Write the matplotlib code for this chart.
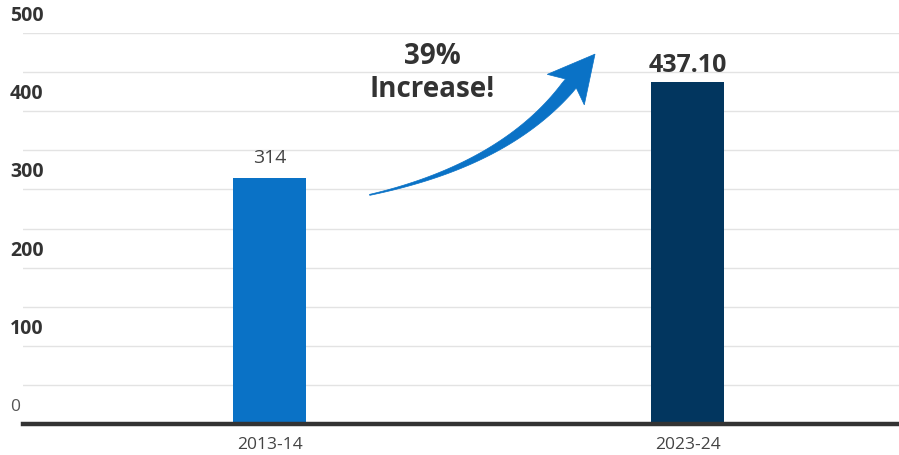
import numpy as np
import matplotlib
matplotlib.use("Agg")
import matplotlib.pyplot as plt
from matplotlib.patches import Polygon
from matplotlib.transforms import ScaledTranslation, blended_transform_factory

categories = ["2013-14", "2023-24"]
values = [314, 437.10]
value_labels = ["314", "437.10"]
bar_colors = ["#0a72c6", "#02365f"]
yticks = [0, 100, 200, 300, 400, 500]
annotation_text = "39%\nIncrease!"

fig = plt.figure(figsize=(8.99, 4.56), dpi=100)
ax = fig.add_axes([23/899, 31/456, 1 - 23/899, (425 - 34)/456])

x = list(range(len(categories)))
ax.bar(x, values, width=0.175, color=bar_colors, zorder=3)
ax.set_xlim(-0.59, 1.505)
ax.set_ylim(0, 500)

# gridlines every 50
for g in range(50, 501, 50):
    ax.axhline(g, color="#e3e3e3", lw=1.0, zorder=1)
ax.axhline(0, color="#333333", lw=3.2, zorder=4, clip_on=False)

for s in ax.spines.values():
    s.set_visible(False)
ax.set_yticks([])
ax.set_xticks(x)
ax.set_xticklabels(categories, fontsize=12.5, color="#444444", family="Open Sans")
ax.tick_params(axis="x", length=0, pad=9)

# y labels placed above gridlines at left edge of figure
trans = blended_transform_factory(fig.transFigure, ax.transData) + ScaledTranslation(0, 18/100, fig.dpi_scale_trans)
for t in yticks:
    ax.text(10/899, t, str(t), transform=trans, ha="left", va="center",
            fontsize=14 if t else 12.5, fontweight="bold" if t else "normal",
            color="#333333" if t else "#555555", family="Open Sans")

# value labels
ax.text(x[0], values[0] + 16, value_labels[0], ha="center", va="bottom",
        fontsize=14, color="#444444", family="Open Sans")
ax.text(x[1], values[1] + 6, value_labels[1], ha="center", va="bottom",
        fontsize=18, fontweight="bold", color="#333333", family="Open Sans")

# curved tapered arrow (built in display pixels)
fig.canvas.draw()
p0 = np.array(ax.transData.transform((0.239, 293)))
tip = np.array(ax.transData.transform((0.778, 473)))
d_head = np.array([28.0, 34.0]); d_head /= np.linalg.norm(d_head)
d_start = np.array([1.0, 0.22]); d_start /= np.linalg.norm(d_start)
head_len, head_w = 44.0, 48.0
base = tip - head_len * d_head
# control point: intersection of tangent lines
A = np.column_stack([d_start, d_head])
tt = np.linalg.solve(A, base - p0)
p1 = p0 + tt[0] * d_start
ts = np.linspace(0, 1, 60)
curve = ((1 - ts)[:, None] ** 2) * p0 + (2 * (1 - ts) * ts)[:, None] * p1 + (ts ** 2)[:, None] * base
deriv = 2 * (1 - ts)[:, None] * (p1 - p0) + 2 * ts[:, None] * (base - p1)
deriv /= np.linalg.norm(deriv, axis=1)[:, None]
perp = np.column_stack([-deriv[:, 1], deriv[:, 0]])
widths = 1.0 + 13.0 * ts ** 1.2
left = curve + perp * (widths / 2)[:, None]
right = curve - perp * (widths / 2)[:, None]
hp = np.array([-d_head[1], d_head[0]])
notch = base + 6 * d_head
wing_l = base + hp * head_w / 2 - 2 * d_head
wing_r = base - hp * head_w / 2 - 2 * d_head
pts = np.vstack([left, [notch + hp * 7, wing_l, tip, wing_r, notch - hp * 7], right[::-1]])
fig.patches.append(Polygon(pts, closed=True, transform=None, facecolor="#0a72c6",
                           edgecolor="#0a72c6", lw=0.5, zorder=5, figure=fig))

ax.text(0.388, 450, annotation_text, ha="center", va="center", fontsize=20,
        fontweight="bold", color="#333333", family="Open Sans", linespacing=1.2)

fig.savefig("out.png", dpi=100, facecolor="white")
